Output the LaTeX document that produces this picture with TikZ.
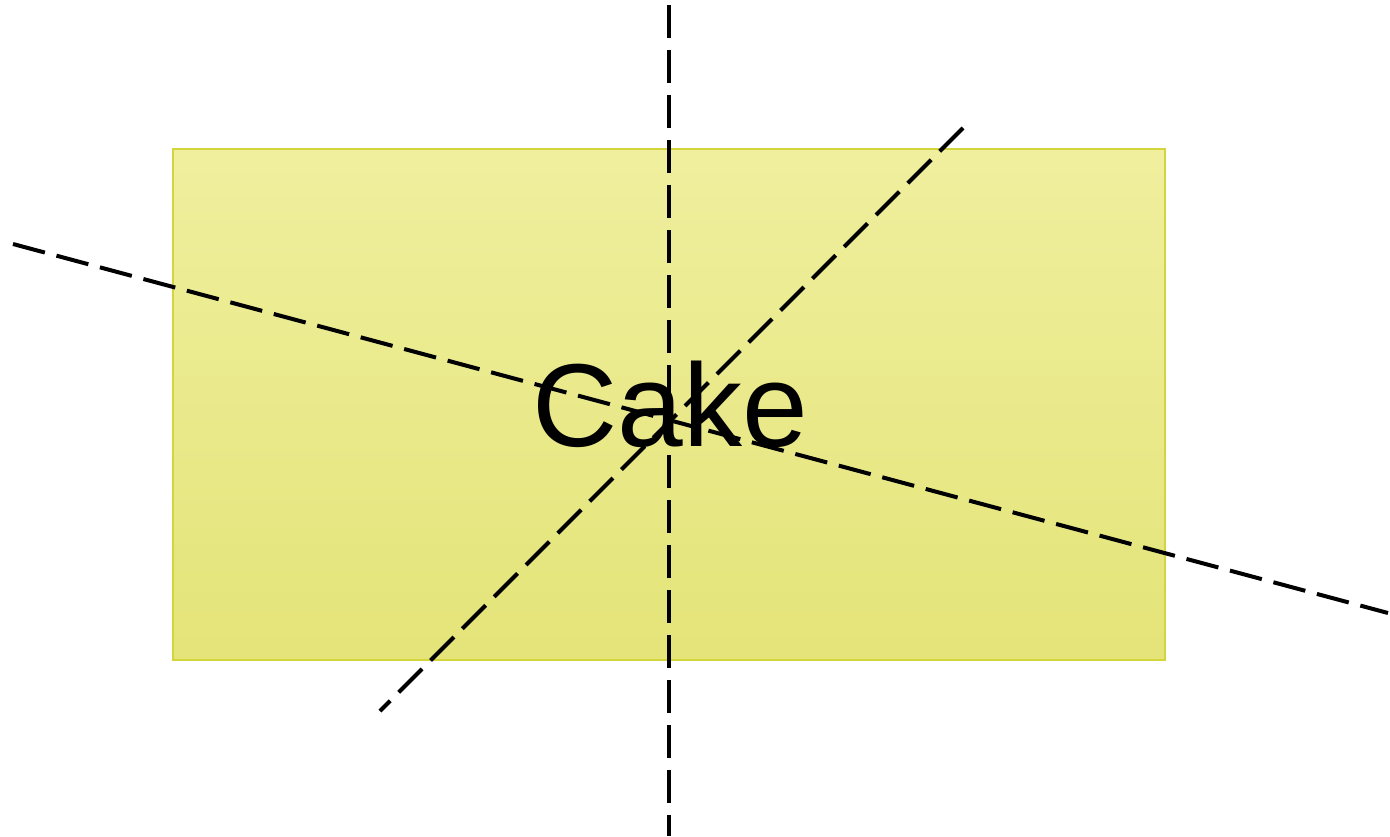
\documentclass[tikz,border=0pt]{standalone}
\usepackage{fontspec}
\setmainfont{Liberation Sans}
\definecolor{cakeTop}{HTML}{EFEF9E}
\definecolor{cakeBot}{HTML}{E4E479}
\definecolor{cakeEdge}{HTML}{D4D43C}
\tikzset{
  cut/.style={line width=4pt, dash pattern=on 33pt off 12pt, black},
  cakebox/.style={draw=cakeEdge, line width=1.5pt, top color=cakeTop, bottom color=cakeBot, minimum width=992pt, minimum height=511pt, inner sep=0pt},
}
\begin{document}
\begin{tikzpicture}[x=1pt,y=-1pt]
\useasboundingbox (0,0) rectangle (1390,836);
\node[cakebox] (cake) at (669,404.5) {};
\coordinate (v1) at (669,5);
\coordinate (v2) at (669,836);
\coordinate (d1) at (380,711);
\coordinate (d2) at (963,128);
\coordinate (h1) at (13,244);
\coordinate (h2) at (1388,613);
\draw[cut] (v1) -- (v2);
\draw[cut] (d2) -- (d1);
\draw[cut] (h1) -- (h2);
\node[inner sep=0pt, font=\fontsize{118}{118}\selectfont] (label) at (670,404) {Cake};
\end{tikzpicture}
\end{document}
